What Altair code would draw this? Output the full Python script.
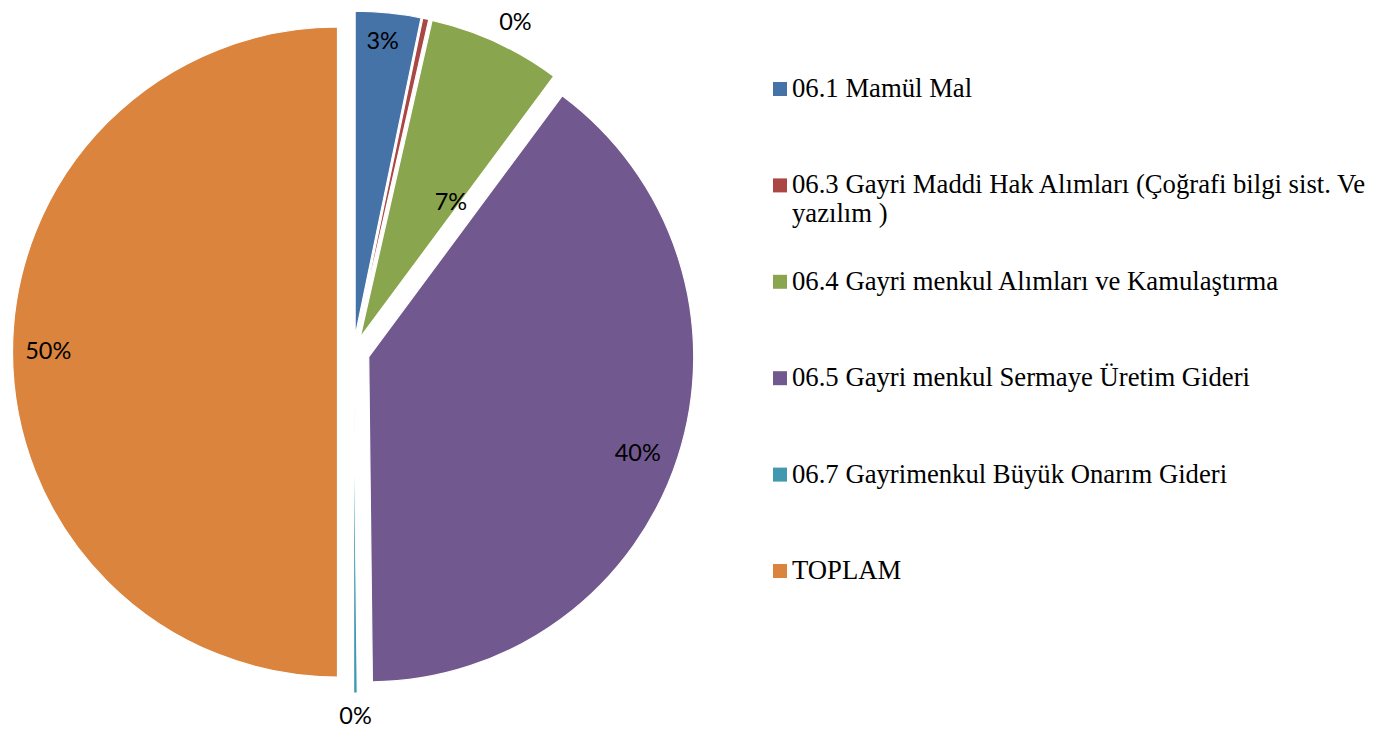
import altair as alt
import pandas as pd

# ---------------- data ----------------
categories = [
    "06.1 Mamül Mal",
    "06.3 Gayri Maddi Hak Alımları (Çoğrafi bilgi sist. Ve yazılım )",
    "06.4 Gayri menkul Alımları ve Kamulaştırma",
    "06.5 Gayri menkul Sermaye Üretim Gideri",
    "06.7 Gayrimenkul Büyük Onarım Gideri",
    "TOPLAM",
]
legend_text = [
    "06.1 Mamül Mal",
    "06.3 Gayri Maddi Hak Alımları (Çoğrafi bilgi sist. Ve\nyazılım )",
    "06.4 Gayri menkul Alımları ve Kamulaştırma",
    "06.5 Gayri menkul Sermaye Üretim Gideri",
    "06.7 Gayrimenkul Büyük Onarım Gideri",
    "TOPLAM",
]
shares = [3.25, 0.30, 6.60, 39.67, 0.18, 50.0]

# ---------------- style ----------------
colors = ["#4572A7", "#AA4643", "#89A54E", "#71588F", "#4198AF", "#DB843D"]
label_radius = [0.91, 1.08, 0.50, 0.88, 1.075, 0.89]   # fraction of pie radius
label_turn = [-0.5, 14.6, 9.3, 1.9, 0.0, 0.0]          # degrees, best-fit nudge
CX, CY = 345.5, 341.0   # pie centre inside its view
R = 325                 # pie radius
D = 16                  # explosion distance

total = sum(shares)
df = pd.DataFrame({
    "order": list(range(len(categories))),
    "cat": categories,
    "disp": legend_text,
    "value": shares,
    "lab": [f"{round(v / total * 100)}%" for v in shares],
    "lf": label_radius,
    "lt": label_turn,
})

color = alt.Color("cat:N", scale=alt.Scale(domain=categories, range=colors), legend=None)

base = (
    alt.Chart(df)
    .transform_joinaggregate(total="sum(value)")
    .transform_window(cum="sum(value)", sort=[alt.SortField("order")], frame=[None, 0])
    .transform_calculate(
        t1="datum.cum / datum.total * 2 * PI",
        t0="(datum.cum - datum.value) / datum.total * 2 * PI",
    )
    .transform_calculate(mid="(datum.t0 + datum.t1) / 2")
    .transform_calculate(
        px=f"{CX} + {D} * sin(datum.mid)",
        py=f"{CY} - {D} * cos(datum.mid)",
        la="datum.mid + datum.lt * PI / 180",
    )
    .transform_calculate(
        lx=f"datum.px + {R} * datum.lf * sin(datum.la)",
        ly=f"datum.py - {R} * datum.lf * cos(datum.la)",
    )
)

pie = base.mark_arc(outerRadius=R, stroke="white", strokeWidth=1.2).encode(
    theta=alt.Theta("t0:Q", scale=None, stack=False),
    theta2=alt.Theta2("t1:Q"),
    x=alt.X("px:Q", scale=None, axis=None),
    y=alt.Y("py:Q", scale=None, axis=None),
    color=color,
)

labels = base.mark_text(
    font="Lato", fontSize=23.5, align="center", baseline="middle", color="black"
).encode(
    x=alt.X("lx:Q", scale=None, axis=None),
    y=alt.Y("ly:Q", scale=None, axis=None),
    text="lab:N",
)

pie_view = alt.layer(pie, labels).properties(width=740, height=712)

ypos = alt.Y(
    "cat:N",
    scale=alt.Scale(type="point", domain=categories, range=[78, 560], padding=0),
    axis=None,
)

squares = alt.Chart(df).mark_square(size=196, opacity=1).encode(
    x=alt.value(32), y=ypos, color=color
)
texts = alt.Chart(df).mark_text(
    align="left", baseline="alphabetic", dy=8, font="Liberation Serif",
    fontSize=26.7, lineBreak="\n", lineHeight=29, color="black",
).encode(x=alt.value(44), y=ypos, text="disp:N")

legend_view = alt.layer(squares, texts).properties(width=630, height=712)

chart = (
    alt.hconcat(pie_view, legend_view, spacing=0)
    .properties(padding=0)
    .configure_view(stroke=None)
)

chart.save("out.html", embed_options={"renderer": "svg", "actions": False})
